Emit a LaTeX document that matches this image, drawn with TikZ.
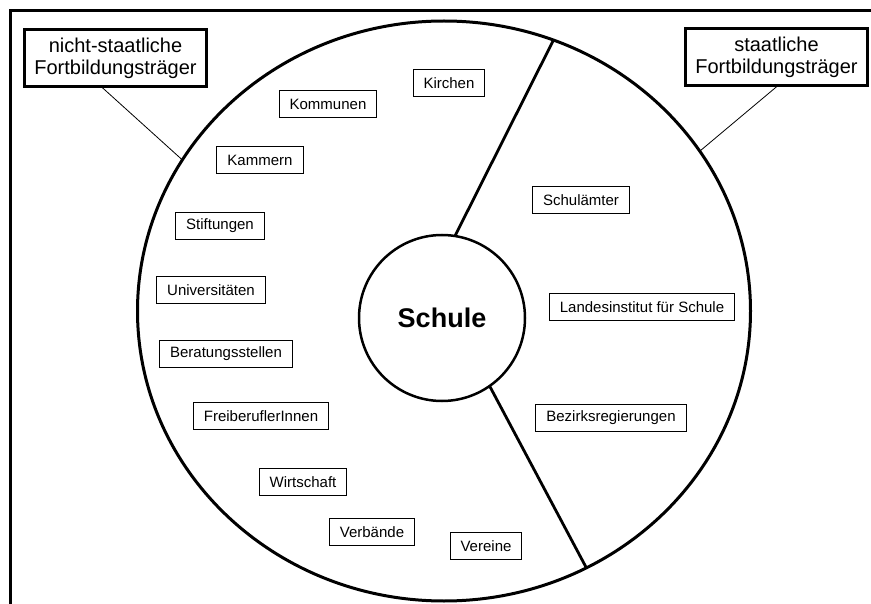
\documentclass[tikz,border=0pt]{standalone}
\usepackage{fontspec}
\setmainfont{Liberation Sans}
\usetikzlibrary{shapes.geometric}
\begin{document}
\begin{tikzpicture}[x=1pt,y=-1pt,
  traeger/.style={draw, line width=1pt, font=\fontsize{15}{18}\selectfont,
    minimum height=27pt, inner xsep=10.5pt, inner ysep=0pt},
  header/.style={draw, line width=2.6pt, font=\fontsize{20}{22}\selectfont,
    align=center, minimum width=182pt, minimum height=57pt, inner sep=0pt},
  leader/.style={line width=0.8pt},
  divider/.style={line width=2.8pt},
]
\useasboundingbox (0,0) rectangle (871,604);
\fill[white] (0,0) rectangle (871,604);

% frame (top and left edge)
\draw[line width=3pt] (871,11) -- (10,11) -- (10,604);

% outer ring and the school in the middle
\node[ellipse, draw, line width=3pt, minimum width=613pt, minimum height=580pt,
      inner sep=0pt, outer sep=0pt] (ring) at (444,311) {};
\node[circle, draw, line width=2.5pt, minimum size=166pt, inner sep=0pt, outer sep=0pt,
      font=\bfseries\fontsize{27}{30}\selectfont] (schule) at (442,318) {Schule};

% sector borders
\draw[divider] (schule.81) -- (ring.68.6);
\draw[divider] (schule.-55) -- (ring.-61.3);

% group headers
\node[header] (nst) at (115.5,58) {nicht-staatliche\\Fortbildungsträger};
\node[header] (st) at (776.5,57) {staatliche\\Fortbildungsträger};
\draw[leader] ([xshift=-13pt]nst.south) -- (ring.150);
\draw[leader] (st.south) -- (ring.32.8);

% non-state providers
\node[traeger] (kirchen)   at (449,83)  {Kirchen};
\node[traeger] (kommunen)  at (328,104) {Kommunen};
\node[traeger] (kammern)   at (260,160) {Kammern};
\node[traeger] (stift)     at (220,226) {Stiftungen};
\node[traeger] (uni)       at (211,290) {Universitäten};
\node[traeger] (beratung)  at (226,354) {Beratungsstellen};
\node[traeger] (frei)      at (261,416) {FreiberuflerInnen};
\node[traeger] (wirtschaft) at (303,482) {Wirtschaft};
\node[traeger] (verbaende) at (372,532) {Verbände};
\node[traeger] (vereine)   at (486,546) {Vereine};

% state providers
\node[traeger] (schulaemter) at (581,200) {Schulämter};
\node[traeger] (landes)      at (642,307) {Landesinstitut für Schule};
\node[traeger] (bezirk)      at (611,418) {Bezirksregierungen};
\end{tikzpicture}
\end{document}
